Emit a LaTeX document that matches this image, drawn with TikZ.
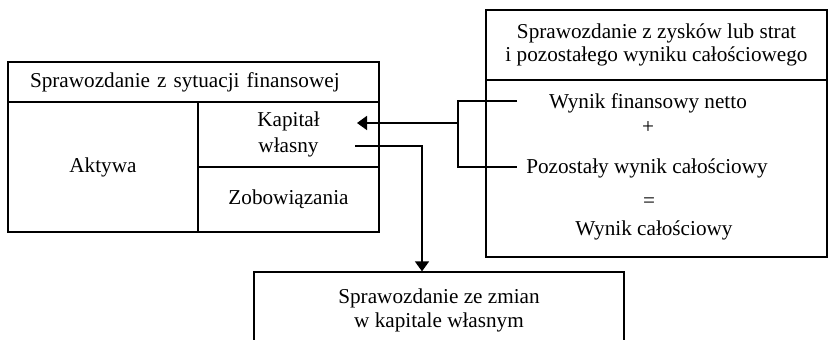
\documentclass[tikz,border=0pt]{standalone}
\usepackage{fontspec}
\setmainfont{Liberation Serif}
\usetikzlibrary{arrows.meta, positioning}

\begin{document}
\begin{tikzpicture}[
    x=0.5pt, y=-0.5pt,
    cell/.style={rectangle, draw, line width=0.65pt, inner sep=0pt, align=center, font=\fontsize{10.6}{13}\selectfont},
    txt/.style={inner sep=0pt, font=\fontsize{10.6}{13}\selectfont},
    link/.style={line width=0.9pt},
    arrow/.style={-{Triangle[length=5pt, width=7pt]}, line width=0.9pt}
]
\clip (0,0) rectangle (828,340);

% Nodes
\node[cell, minimum width=185.5pt, minimum height=20pt, text width=163.5pt, inner xsep=11pt, align=left] (sfp) at (193.5,82) {Sprawozdanie z sytuacji finansowej};
\node[cell, minimum width=95pt, minimum height=65pt] (aktywa) at (103,167) {Aktywa};
\node[cell, minimum width=90.5pt, minimum height=32.5pt] (kapital) at (288.5,134.5) {Kapitał\\własny};
\node[cell, minimum width=90.5pt, minimum height=32.5pt] (zobow) at (288.5,199.5) {Zobowiązania};

\node[cell, minimum width=170.5pt, minimum height=35pt, font=\fontsize{10.6}{11.5}\selectfont] (szis) at (656.5,45) {Sprawozdanie z zysków lub strat\\i pozostałego wyniku całościowego};
\node[cell, minimum width=170.5pt, minimum height=88.5pt] (wyniki) at (656.5,168.5) {};
\node[txt] (netto) at (648,103) {Wynik finansowy netto};
\node[txt] (plus) at (648,128) {+};
\node[txt] (pozostaly) at (647,168) {Pozostały wynik całościowy};
\node[txt] (rowna) at (649,203) {=};
\node[txt] (calosc) at (654,230) {Wynik całościowy};

\node[cell, minimum width=185pt, minimum height=38pt, font=\fontsize{10.6}{12}\selectfont] (szwk) at (439,310) {Sprawozdanie ze zmian\\w kapitale własnym};

% Connector ends
\coordinate (kin) at (357,123);
\coordinate (kout) at (355,146);
\coordinate (netto-in) at (517,101);
\coordinate (pozostaly-in) at (517,167);
\coordinate (suma) at (458,123);

% Arrows
\draw[link] (netto-in) -| (suma) |- (pozostaly-in);
\draw[arrow] (suma) -- (kin);
\draw[arrow] (kout) -| ([xshift=-8.5pt]szwk.north);

\end{tikzpicture}
\end{document}
